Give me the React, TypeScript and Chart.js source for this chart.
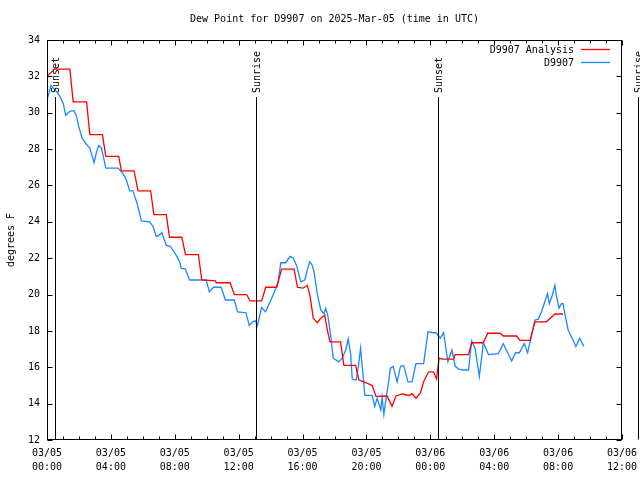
import React, { useEffect, useRef } from "react";
import { Chart, registerables } from "chart.js";

Chart.register(...registerables);

const TITLE = "Dew Point for D9907 on 2025-Mar-05 (time in UTC)";
const Y_TITLE = "degrees F";
const SERIES_NAMES = ["D9907 Analysis", "D9907"];
const COLORS = ["#ff0000", "#1a88ff"];

// x tick labels every 4 hours from 03/05 00:00
const xTickLabels = [
  ["03/05", "00:00"],
  ["03/05", "04:00"],
  ["03/05", "08:00"],
  ["03/05", "12:00"],
  ["03/05", "16:00"],
  ["03/05", "20:00"],
  ["03/06", "00:00"],
  ["03/06", "04:00"],
  ["03/06", "08:00"],
  ["03/06", "12:00"],
];

// sun events (hours since 03/05 00:00 UTC)
const sunTimes = [0.52, 13.09, 24.48, 37.0];
const sunLabels = ["Sunset", "Sunrise", "Sunset", "Sunrise"];

// Analysis series (hours, degF)
const analysisTimes = [
  0.0, 0.46, 1.43, 1.64, 2.48, 2.68, 3.47, 3.68, 4.49, 4.66, 5.45, 5.7, 6.49, 6.69,
  7.47, 7.67, 8.44, 8.67, 9.48, 9.69, 10.54, 10.6, 11.46, 11.73, 12.5, 12.71, 13.44,
  13.69, 14.38, 14.69, 15.47, 15.68, 16.03, 16.3, 16.47, 16.67, 16.92, 17.14, 17.39,
  17.55, 17.72, 18.38, 18.59, 19.32, 19.53, 19.84, 20.36, 20.6, 21.29, 21.6, 21.85,
  22.23, 22.65, 22.85, 23.1, 23.37, 23.58, 23.89, 24.2, 24.39, 24.55, 24.77, 25.45,
  25.56, 26.39, 26.59, 27.32, 27.59, 28.37, 28.57, 29.4, 29.61, 30.24, 30.55, 31.27,
  31.8, 32.31,
];
const analysisValues = [
  32.0, 32.4, 32.4, 30.6, 30.6, 28.8, 28.8, 27.6, 27.6, 26.8, 26.8, 25.7, 25.7, 24.4,
  24.4, 23.15, 23.15, 22.2, 22.2, 20.8, 20.75, 20.65, 20.65, 20.0, 20.0, 19.65, 19.65,
  20.4, 20.4, 21.4, 21.4, 20.4, 20.35, 20.5, 19.9, 18.7, 18.45, 18.7, 18.87,
  18.05, 17.4, 17.4, 16.1, 16.1, 15.3, 15.2, 15.0, 14.4, 14.42, 13.85, 14.42,
  14.53, 14.45, 14.55, 14.3, 14.57, 15.2, 15.75, 15.75, 15.35, 16.5, 16.45, 16.45,
  16.7, 16.7, 17.35, 17.35, 17.87, 17.87, 17.72, 17.72, 17.48, 17.48, 18.5, 18.5,
  18.93, 18.93,
];

// Observed series (hours, degF)
const obsTimes = [
  0.0, 0.25, 0.61, 0.81, 1.02, 1.17, 1.33, 1.5, 1.7, 1.85, 2.0, 2.2, 2.48, 2.68, 2.83,
  2.95, 3.1, 3.24, 3.41, 3.51, 3.68, 4.45, 4.76, 4.97, 5.18, 5.38, 5.66, 5.91, 6.43,
  6.63, 6.84, 6.99, 7.19, 7.47, 7.72, 7.88, 8.13, 8.3, 8.4, 8.67, 8.92, 9.96, 10.17,
  10.42, 10.9, 11.17, 11.73, 11.93, 12.46, 12.66, 12.87, 13.04, 13.18, 13.43, 13.68,
  14.02, 14.33, 14.47, 14.64, 14.95, 15.22, 15.43, 15.64, 15.89, 16.14, 16.3, 16.45,
  16.61, 16.72, 16.92, 17.14, 17.34, 17.45, 17.59, 17.76, 17.92, 18.28, 18.48, 18.7,
  18.86, 19.01, 19.11, 19.36, 19.53, 19.63, 19.78, 19.9, 20.36, 20.52, 20.67, 20.9,
  20.98, 21.09, 21.23, 21.35, 21.5, 21.67, 21.92, 22.13, 22.33, 22.6, 22.85, 23.1,
  23.58, 23.85, 24.2, 24.36, 24.62, 24.83, 25.1, 25.35, 25.56, 25.77, 26.08, 26.39,
  26.59, 26.8, 27.07, 27.32, 27.64, 28.26, 28.57, 29.09, 29.34, 29.57, 29.88, 30.09,
  30.3, 30.55, 30.76, 30.96, 31.17, 31.34, 31.45, 31.63, 31.8, 31.9, 32.05, 32.21,
  32.31, 32.42, 32.63, 32.88, 33.11, 33.36, 33.61,
];
const obsValues = [
  30.7, 31.5, 31.15, 30.9, 30.5, 29.85, 30.0, 30.1, 30.1, 29.8, 29.2, 28.6, 28.25, 28.05,
  27.6, 27.25, 27.85, 28.2, 28.05, 27.65, 26.95, 26.95, 26.65, 26.3, 25.7, 25.7, 24.95,
  24.05, 24.0, 23.75, 23.2, 23.25, 23.4, 22.7, 22.65, 22.45, 22.1, 21.8, 21.45, 21.4,
  20.8, 20.8, 20.15, 20.4, 20.4, 19.7, 19.7, 19.05, 19.0, 18.3, 18.5, 18.55, 18.3, 19.3,
  19.05, 19.7, 20.35, 20.7, 21.75, 21.75, 22.1, 22.0, 21.55, 20.7, 20.8, 21.35, 21.8,
  21.6, 21.25, 20.05, 19.15, 18.95, 19.25, 18.8, 17.75, 16.5, 16.3, 16.5, 16.95, 17.55,
  16.75, 15.35, 15.3, 16.3, 17.05, 15.65, 14.45, 14.45, 13.85, 14.3, 13.65, 14.35, 13.4,
  14.3, 14.95, 15.95, 16.05, 15.2, 16.05, 16.1, 15.2, 15.2, 16.2, 16.2, 17.95, 17.9,
  17.9, 17.6, 17.9, 16.3, 16.95, 16.05, 15.9, 15.85, 15.85, 17.45, 17.05, 15.5, 17.35,
  16.7, 16.75, 17.3, 16.35, 16.8, 16.8, 17.3, 16.8, 17.6, 18.6, 18.65, 19.05, 19.6,
  20.05, 19.5, 19.95, 20.5, 19.9, 19.25, 19.5, 19.5, 18.95, 18.05, 17.6, 17.15, 17.6,
  17.15,
];

const X_MIN = 0;
const X_MAX = 36;
const Y_MIN = 12;
const Y_MAX = 34;

const FONT_FAMILY = '"DejaVu Sans Mono", monospace';
const FONT = `10px ${FONT_FAMILY}`;

const framePlugin = {
  id: "gnuFrame",
  afterDraw(chart: any) {
    const { ctx, chartArea: a } = chart;
    const xs = chart.scales.x;
    const ys = chart.scales.y;
    const L = Math.round(a.left) + 0.5;
    const R = Math.round(a.right) - 0.5;
    const T = Math.round(a.top) + 0.5;
    const B = Math.round(a.bottom) - 0.5;
    ctx.save();
    ctx.strokeStyle = "#000";
    ctx.lineWidth = 1;
    ctx.beginPath();
    // ticks on x (every hour, longer every 4h)
    for (let h = X_MIN; h <= X_MAX; h++) {
      const px = Math.round(xs.getPixelForValue(h)) + 0.5;
      const len = h % 4 === 0 ? 5 : 3;
      ctx.moveTo(px, B);
      ctx.lineTo(px, B - len);
      ctx.moveTo(px, T);
      ctx.lineTo(px, T + len);
    }
    for (let v = Y_MIN; v <= Y_MAX; v += 2) {
      const py = Math.round(ys.getPixelForValue(v)) + 0.5;
      ctx.moveTo(L, py);
      ctx.lineTo(L + 5, py);
      ctx.moveTo(R, py);
      ctx.lineTo(R - 5, py);
    }
    ctx.stroke();
    ctx.strokeRect(L, T, R - L, B - T);

    // sun lines
    ctx.font = FONT;
    ctx.fillStyle = "#000";
    sunTimes.forEach((t, i) => {
      const px = Math.round(xs.getPixelForValue(t)) + 0.5;
      ctx.beginPath();
      ctx.moveTo(px, 97);
      ctx.lineTo(px, B);
      ctx.stroke();
      ctx.save();
      ctx.translate(px + 1, 93);
      ctx.rotate(-Math.PI / 2);
      ctx.textAlign = "left";
      ctx.textBaseline = "middle";
      ctx.fillText(sunLabels[i], 0, 0);
      ctx.restore();
    });

    // title
    ctx.textAlign = "center";
    ctx.textBaseline = "middle";
    ctx.fillText(TITLE, (a.left + a.right) / 2, 19);

    // y axis title
    ctx.save();
    ctx.translate(11, (a.top + a.bottom) / 2);
    ctx.rotate(-Math.PI / 2);
    ctx.textAlign = "center";
    ctx.textBaseline = "middle";
    ctx.fillText(Y_TITLE, 0, 0);
    ctx.restore();

    // legend
    SERIES_NAMES.forEach((name, i) => {
      const yy = 50 + i * 13;
      ctx.textAlign = "right";
      ctx.textBaseline = "middle";
      ctx.fillStyle = "#000";
      ctx.fillText(name, 574, yy);
      ctx.strokeStyle = COLORS[i];
      ctx.lineWidth = 1.3;
      ctx.beginPath();
      ctx.moveTo(581, yy - 0.5);
      ctx.lineTo(610, yy - 0.5);
      ctx.stroke();
    });
    ctx.restore();
  },
};

export default function App() {
  const ref = useRef<HTMLCanvasElement | null>(null);
  useEffect(() => {
    if (!ref.current) return;
    const analysisData = analysisTimes.map((t, i) => ({ x: t, y: analysisValues[i] }));
    const obsData = obsTimes.map((t, i) => ({ x: t, y: obsValues[i] }));
    const chart = new Chart(ref.current, {
      type: "line",
      data: {
        datasets: [
          {
            label: SERIES_NAMES[0],
            data: analysisData,
            borderColor: COLORS[0],
            backgroundColor: COLORS[0],
            borderWidth: 1.3,
            pointRadius: 0,
            tension: 0,
          },
          {
            label: SERIES_NAMES[1],
            data: obsData,
            borderColor: COLORS[1],
            backgroundColor: COLORS[1],
            borderWidth: 1.3,
            pointRadius: 0,
            tension: 0,
          },
        ],
      },
      options: {
        responsive: false,
        animation: false,
        events: [],
        layout: { padding: { top: 40, right: 18, left: 0, bottom: 0 } },
        plugins: {
          legend: { display: false },
          title: { display: false },
          tooltip: { enabled: false },
        },
        scales: {
          x: {
            type: "linear",
            min: X_MIN,
            max: X_MAX,
            grid: { display: false, drawTicks: false },
            border: { display: false },
            ticks: {
              stepSize: 4,
              padding: 6,
              maxRotation: 0,
              autoSkip: false,
              color: "#000",
              font: { family: FONT_FAMILY, size: 10, lineHeight: 1.4 },
              callback: (v: any) => xTickLabels[Math.round(Number(v) / 4)],
            },
            afterFit: (s: any) => {
              s.height = 40;
              s.paddingLeft = 0;
              s.paddingRight = 0;
            },
          },
          y: {
            min: Y_MIN,
            max: Y_MAX,
            grid: { display: false, drawTicks: false },
            border: { display: false },
            ticks: {
              stepSize: 2,
              padding: 7,
              color: "#000",
              font: { family: FONT_FAMILY, size: 10 },
            },
            afterFit: (s: any) => {
              s.width = 47;
              s.paddingTop = 0;
              s.paddingBottom = 0;
            },
          },
        },
      },
      plugins: [framePlugin],
    });
    return () => chart.destroy();
  }, []);
  return (
    <div style={{ position: "absolute", left: 0, top: 0, width: 640, height: 480 }}>
      <canvas ref={ref} width={640} height={480} style={{ display: "block" }} />
    </div>
  );
}
